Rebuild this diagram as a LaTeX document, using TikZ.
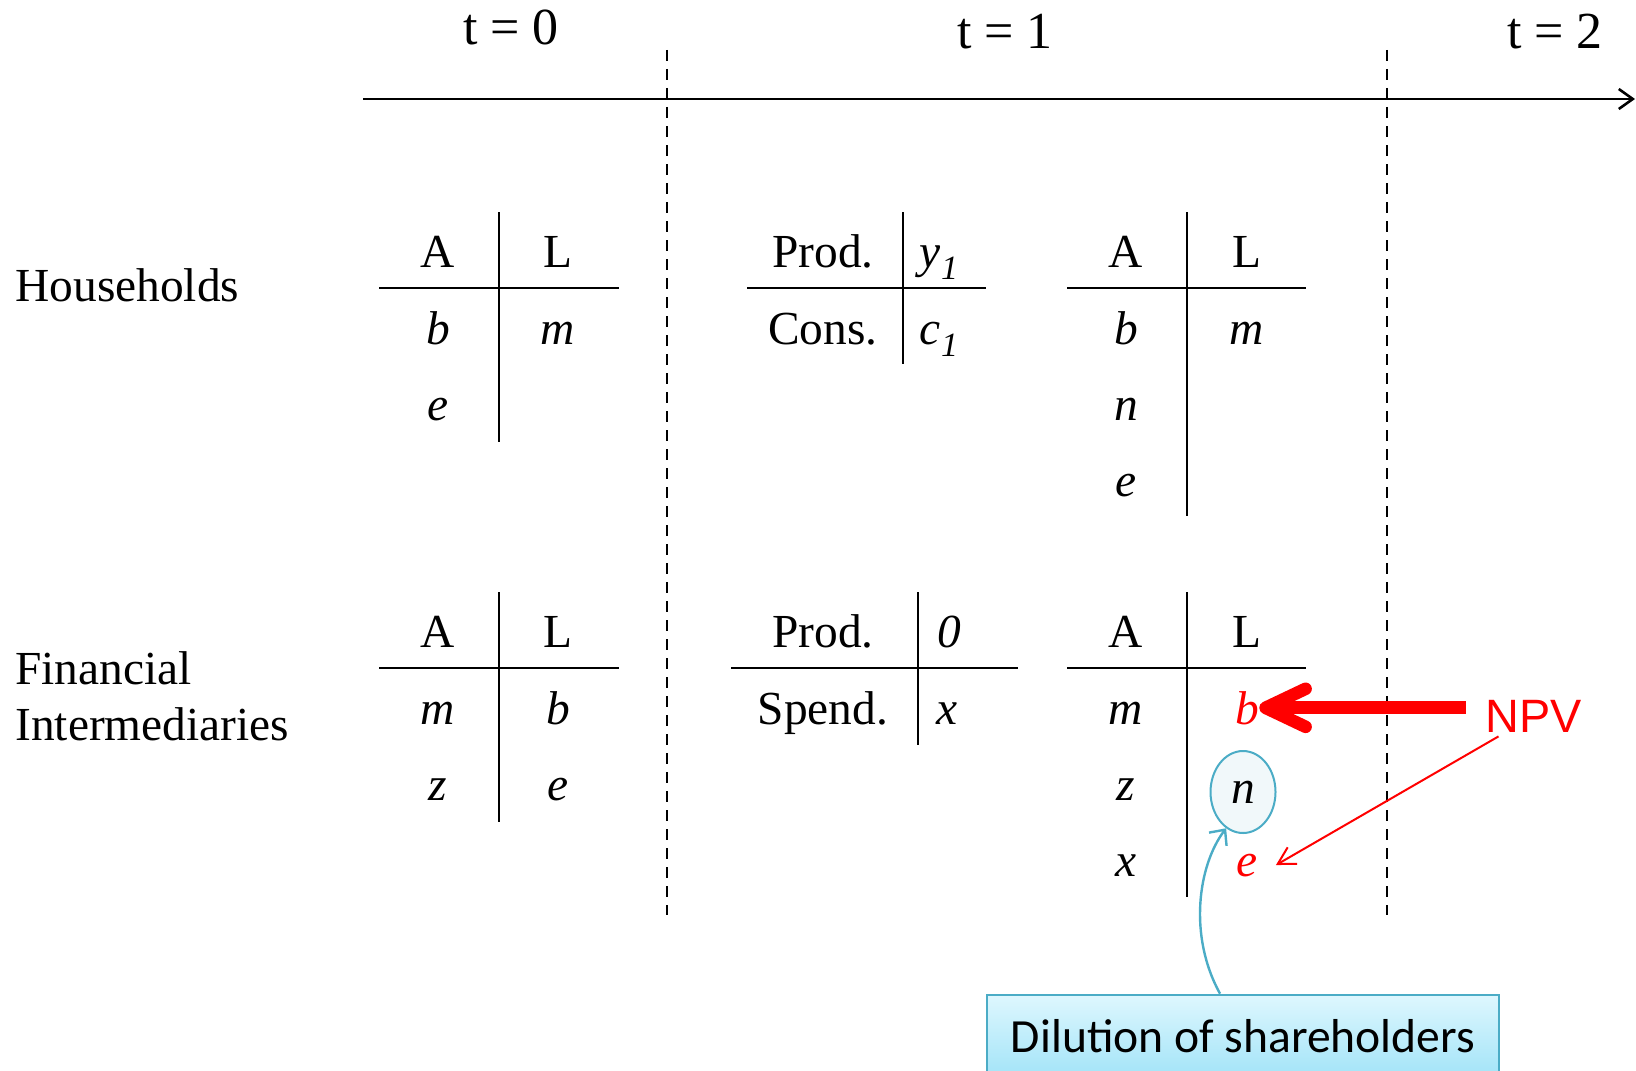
\documentclass[tikz,border=0pt]{standalone}
\usepackage{fontspec}
\setmainfont{Liberation Serif}
\newfontfamily\npvfont{Liberation Sans}
\newfontfamily\dilfont{Carlito}
\usetikzlibrary{arrows.meta,shapes.geometric}

\definecolor{dilblue}{RGB}{75,172,198}
\definecolor{diltop}{RGB}{222,247,254}
\definecolor{dilbot}{RGB}{163,228,248}
\definecolor{nfill}{RGB}{241,248,250}

\newcommand{\lowone}{\raisebox{-6pt}{\fontsize{17}{17}\selectfont\itshape 1}}

\begin{document}
\begin{tikzpicture}[x=0.5pt,y=-0.5pt,
  every node/.style={font=\fontsize{23.7}{28}\selectfont, inner sep=0pt, anchor=base},
  tbar/.style={line width=1.3pt},
  tlabel/.style={font=\fontsize{26}{30}\selectfont},
  period/.style={dashed, dash pattern=on 5.5pt off 4pt, line width=1pt}]
  \useasboundingbox (0,0) rectangle (1636,1070);

  % time line
  \draw[line width=1.3pt, -{Straight Barb[length=7pt,width=10pt]}] (363,99) -- (1635,99);
  \foreach \xd in {667,1387}
    \draw[period] (\xd,50) -- (\xd,915);
  \node[tlabel] (tzero) at (511,45) {t = 0};
  \node[tlabel] (tone) at (1005,49) {t = 1};
  \node[tlabel] (ttwo) at (1555,49) {t = 2};

  % sectors
  \node[anchor=base west] (hh) at (15,301) {Households};
  \node[anchor=base west] (fiA) at (15,684) {Financial};
  \node[anchor=base west] (fiB) at (15,740) {Intermediaries};

  % households, t=0
  \draw[tbar] (379,288) -- (619,288);
  \draw[tbar] (499,212) -- (499,442);
  \node (hA0) at (438,267) {A};
  \node (hL0) at (558,267) {L};
  \node (hb0) at (438,344) {\textit{b}};
  \node (hm0) at (558,344) {\textit{m}};
  \node (he0) at (438,420) {\textit{e}};

  % households, t=1
  \draw[tbar] (747,288) -- (986,288);
  \draw[tbar] (903,212) -- (903,364);
  \node (hProd) at (823,267) {Prod.};
  \node (hy) at (939,267) {\textit{y}\lowone};
  \node (hCons) at (823,344) {Cons.};
  \node (hc) at (939,344) {\textit{c}\lowone};

  \draw[tbar] (1067,288) -- (1306,288);
  \draw[tbar] (1187,212) -- (1187,516);
  \node (hA1) at (1126,267) {A};
  \node (hL1) at (1247,267) {L};
  \node (hb1) at (1126,344) {\textit{b}};
  \node (hm1) at (1247,344) {\textit{m}};
  \node (hn1) at (1126,420) {\textit{n}};
  \node (he1) at (1126,496) {\textit{e}};

  % intermediaries, t=0
  \draw[tbar] (379,668) -- (619,668);
  \draw[tbar] (499,592) -- (499,822);
  \node (fA0) at (438,647) {A};
  \node (fL0) at (558,647) {L};
  \node (fm0) at (438,724) {\textit{m}};
  \node (fb0) at (558,724) {\textit{b}};
  \node (fz0) at (438,800) {\textit{z}};
  \node (fe0) at (558,800) {\textit{e}};

  % intermediaries, t=1
  \draw[tbar] (731,668) -- (1018,668);
  \draw[tbar] (918,592) -- (918,745);
  \node (fProd) at (823,647) {Prod.};
  \node (fzero) at (949,647) {\textit{0}};
  \node (fSpend) at (823,724) {Spend.};
  \node (fx) at (947,724) {\textit{x}};

  \draw[tbar] (1067,668) -- (1306,668);
  \draw[tbar] (1187,592) -- (1187,897);
  \node (fA1) at (1126,647) {A};
  \node (fL1) at (1247,647) {L};
  \node (fm1) at (1126,724) {\textit{m}};
  \node[text=red] (fb1) at (1247,724) {\textit{b}};
  \node (fz1) at (1126,800) {\textit{z}};
  \node[ellipse, draw=dilblue, line width=1pt, fill=nfill, minimum width=32.5pt,
    minimum height=41pt, anchor=center] (fn1) at (1243,792) {\textit{n}};
  \node (fx1) at (1126,876) {\textit{x}};
  \node[text=red, inner xsep=9pt] (fe1) at (1247,876) {\textit{e}};

  % NPV
  \node[text=red, font=\npvfont\fontsize{23.4}{28}\selectfont, inner xsep=10pt,
    inner ysep=2pt] (npv) at (1534,732) {NPV};
  \draw[red, line width=6.3pt, -{Straight Barb[round,length=20pt,width=19pt]}]
    (npv.west |- fb1.east) -- (fb1.east);
  \draw[red, line width=1pt, -{Straight Barb[length=8.5pt,width=9.5pt]}]
    (npv.210) -- (fe1.east);

  % dilution
  \node[draw=dilblue, line width=1pt, top color=diltop, bottom color=dilbot,
    font=\dilfont\fontsize{23.8}{28}\selectfont, minimum width=256pt,
    minimum height=41pt] (dil) at (1243,1052) {Dilution of shareholders};
  \draw[dilblue, line width=1.2pt, -{Straight Barb[length=6pt,width=11pt]}]
    ([xshift=-11.5pt]dil.north) .. controls +(-32,-58) and +(-28,37) .. (fn1.245);
\end{tikzpicture}
\end{document}
